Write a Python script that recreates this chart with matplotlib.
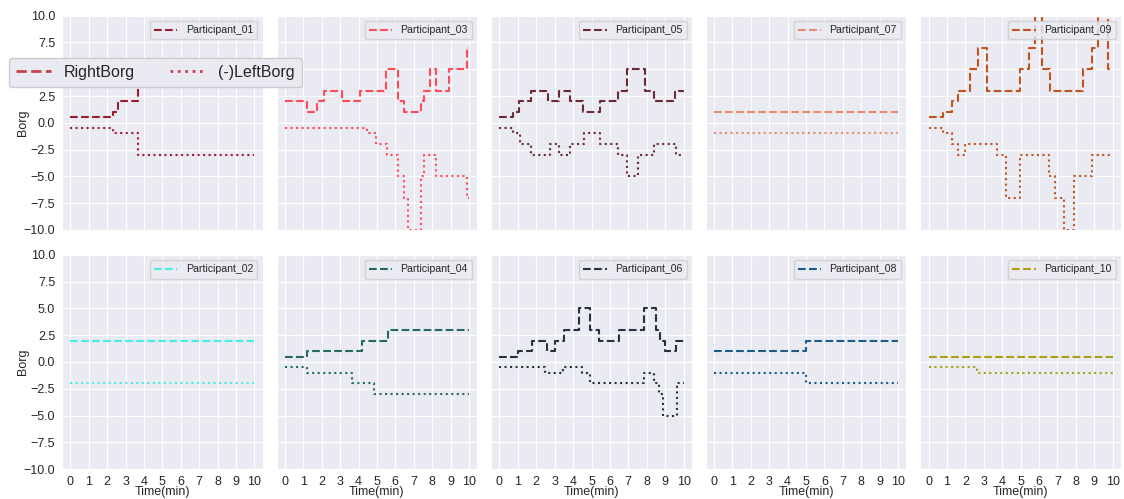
import matplotlib
matplotlib.use("Agg")
import matplotlib.pyplot as plt
import seaborn as sns
from matplotlib.lines import Line2D

sns.set_style("darkgrid")
plt.rcParams['font.family'] = ['Liberation Sans', 'DejaVu Sans']

# ---------------- data (time in minutes, Borg values) ----------------
T_END = 10

P01_right_t = [0, 2.3, 2.6, 3.7]
P01_right_v = [0.5, 1, 2, 4]
P01_left_t = [0, 2.3, 3.7]
P01_left_v = [0.5, 1, 3]

P02_right_t = [0]
P02_right_v = [2]
P02_left_t = [0]
P02_left_v = [2]

P03_right_t = [0, 1.18, 1.76, 2.12, 3.12, 4.1, 5.5, 6.16, 6.47, 7.37, 7.55, 7.9, 8.2, 8.9, 9.9]
P03_right_v = [2, 1, 2, 3, 2, 3, 5, 2, 1, 2, 3, 5, 3, 5, 7]
P03_left_t = [0, 4.47, 4.96, 5.52, 6.16, 6.47, 6.7, 7.37, 7.55, 8.19, 9.9]
P03_left_v = [0.5, 1, 2, 3, 5, 7, 10, 5, 3, 5, 7]

P04_right_t = [0, 1.21, 4.2, 5.62]
P04_right_v = [0.5, 1, 2, 3]
P04_left_t = [0, 1.21, 3.66, 4.86]
P04_left_v = [0.5, 1, 2, 3]

P05_right_t = [0, 0.72, 1.05, 1.72, 2.63, 3.22, 3.84, 4.53, 5.47, 6.43, 6.92, 7.93, 8.42, 9.51]
P05_right_v = [0.5, 1, 2, 3, 2, 3, 2, 1, 2, 3, 5, 3, 2, 3]
P05_left_t = [0, 0.72, 1.09, 1.72, 2.72, 3.22, 3.84, 4.57, 5.47, 6.43, 6.92, 7.55, 8.42, 9.57]
P05_left_v = [0.5, 1, 2, 3, 2, 3, 2, 1, 2, 3, 5, 3, 2, 3]

P06_right_t = [0, 1.0, 1.76, 2.57, 3.04, 3.53, 4.31, 4.93, 5.4, 6.49, 7.84, 8.48, 8.7, 8.97, 9.6]
P06_right_v = [0.5, 1, 2, 1, 2, 3, 5, 3, 2, 3, 5, 3, 2, 1, 2]
P06_left_t = [0, 2.45, 3.44, 4.49, 4.93, 7.83, 8.42, 8.66, 8.88, 9.64]
P06_left_v = [0.5, 1, 0.5, 1, 2, 1, 2, 3, 5, 2]

P07_right_t = [0]
P07_right_v = [1]
P07_left_t = [0]
P07_left_v = [1]

P08_right_t = [0, 5.0]
P08_right_v = [1, 2]
P08_left_t = [0, 5.0]
P08_left_v = [1, 2]

P09_right_t = [0, 0.78, 1.27, 1.59, 2.26, 2.68, 3.17, 4.95, 5.47, 5.8, 6.16, 6.61, 8.39, 8.88, 9.19, 9.75]
P09_right_v = [0.5, 1, 2, 3, 5, 7, 3, 5, 7, 10, 5, 3, 5, 7, 10, 5]
P09_left_t = [0, 0.78, 1.27, 1.58, 1.99, 3.71, 4.2, 4.95, 6.52, 6.88, 7.34, 7.88, 8.88]
P09_left_v = [0.5, 1, 2, 3, 2, 3, 7, 3, 5, 7, 10, 5, 3]

P10_right_t = [0]
P10_right_v = [0.5]
P10_left_t = [0, 2.65]
P10_left_v = [0.5, 1]

participants = ["Participant_01", "Participant_03", "Participant_05", "Participant_07", "Participant_09",
                "Participant_02", "Participant_04", "Participant_06", "Participant_08", "Participant_10"]
colors = ["#a11b2f", "#ff4a57", "#6d2a33", "#e98a6c", "#c2531d",
          "#45efe6", "#236a62", "#27323c", "#1b5b89", "#a9a012"]
right_t = [P01_right_t, P03_right_t, P05_right_t, P07_right_t, P09_right_t,
           P02_right_t, P04_right_t, P06_right_t, P08_right_t, P10_right_t]
right_v = [P01_right_v, P03_right_v, P05_right_v, P07_right_v, P09_right_v,
           P02_right_v, P04_right_v, P06_right_v, P08_right_v, P10_right_v]
left_t = [P01_left_t, P03_left_t, P05_left_t, P07_left_t, P09_left_t,
          P02_left_t, P04_left_t, P06_left_t, P08_left_t, P10_left_t]
left_v = [P01_left_v, P03_left_v, P05_left_v, P07_left_v, P09_left_v,
          P02_left_v, P04_left_v, P06_left_v, P08_left_v, P10_left_v]

x_ticks = list(range(0, 11))
y_ticks = [-10, -7.5, -5, -2.5, 0, 2.5, 5, 7.5, 10]
legend_color = "#c8404f"

# ---------------- figure ----------------
fig, axes = plt.subplots(2, 5, figsize=(11.24, 4.99), dpi=100, sharex=True, sharey=True)
fig.subplots_adjust(left=0.0552, right=0.9973, top=0.9685, bottom=0.06, wspace=0.069, hspace=0.117)

for i, ax in enumerate(axes.flat):
    tr = right_t[i] + [T_END]
    vr = right_v[i] + [right_v[i][-1]]
    tl = left_t[i] + [T_END]
    vl = [-v for v in left_v[i]] + [-left_v[i][-1]]
    ax.step(tr, vr, where='post', color=colors[i], linestyle='--', linewidth=1.5, label=participants[i])
    ax.step(tl, vl, where='post', color=colors[i], linestyle=':', linewidth=1.5)
    ax.set_ylim(-10, 10)
    ax.set_xlim(-0.45, 10.45)
    ax.set_yticks(y_ticks)
    ax.set_xticks(x_ticks)
    ax.tick_params(labelsize=9, pad=1.5)
    ax.legend(loc='upper right', fontsize=7.6, handlelength=2.2)
    if i % 5 == 0:
        ax.set_ylabel("Borg", fontsize=9, labelpad=-4)
    if i >= 5:
        ax.set_xlabel("Time(min)", fontsize=9, labelpad=-1.5)

handles = [Line2D([0], [0], color=legend_color, linestyle='--', linewidth=2),
           Line2D([0], [0], color=legend_color, linestyle=':', linewidth=2)]
leg = fig.legend(handles, ["RightBorg", "(-)LeftBorg"], ncol=2, fontsize=11.5, borderpad=0.45,
                 loc='upper left', bbox_to_anchor=(0.008, 0.884), borderaxespad=0,
                 columnspacing=2.2, handlelength=2.2, handletextpad=0.8, framealpha=1.0)
leg.set_zorder(10)

fig.savefig("out.png", dpi=100)
